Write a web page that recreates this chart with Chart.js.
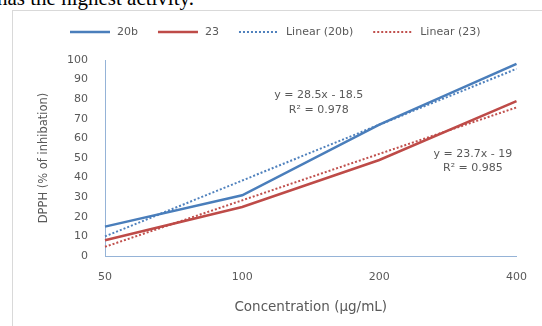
<!DOCTYPE html>
<html>
<head>
<meta charset="utf-8">
<script src="https://cdn.jsdelivr.net/npm/chart.js@4/dist/chart.umd.min.js"></script>
<style>
  html, body { margin: 0; padding: 0; background: #fff; overflow: hidden; }
  #wrap { position: relative; width: 542px; height: 326px; overflow: hidden; }
  #frame { position: absolute; left: 12px; top: 10px; width: 600px; height: 400px; border: 1px solid #d9d9d9; box-sizing: border-box; }
  #lead { position: absolute; left: -3px; top: -12px; font-family: "Liberation Serif", serif; font-size: 21px; line-height: 21px; color: #000; white-space: nowrap; }
  #c { position: absolute; left: 0; top: 0; }
</style>
</head>
<body>
<div id="wrap">
  <div id="lead">has the highest activity.</div>
  <div id="frame"></div>
  <canvas id="c" width="542" height="326"></canvas>
</div>
<script>
const categories = ['50', '100', '200', '400'];
const series20b = [15, 31, 67, 98];
const series23 = [8, 25, 49, 79];
const trend20b = [10, 38.5, 67, 95.5];
const trend23 = [4.7, 28.4, 52.1, 75.8];
const yTicks = [0, 10, 20, 30, 40, 50, 60, 70, 80, 90, 100];
const eq20b = ['y = 28.5x - 18.5', 'R² = 0.978'];
const eq23 = ['y = 23.7x - 19', 'R² = 0.985'];

const FONT = '"DejaVu Sans", sans-serif';
const TXT = '#595959';
const BLUE = '#4A7EBB';
const RED = '#BE4B48';
const BLUE_T = '#4F81BD';
const RED_T = '#C0504D';
const AXIS = '#95B3D7';

const legendPlugin = {
  id: 'customLegend',
  afterDraw(chart) {
    const ctx = chart.ctx;
    ctx.save();
    ctx.font = '11px ' + FONT;
    ctx.textBaseline = 'middle';
    let x = 70;
    const y = 32;
    chart.data.datasets.forEach(ds => {
      ctx.beginPath();
      ctx.strokeStyle = ds.borderColor;
      ctx.lineWidth = ds.borderDash ? 2 : 2.5;
      ctx.setLineDash(ds.borderDash || []);
      ctx.moveTo(x, y);
      ctx.lineTo(x + 40, y);
      ctx.stroke();
      ctx.setLineDash([]);
      ctx.fillStyle = TXT;
      ctx.textAlign = 'left';
      ctx.fillText(ds.label, x + 47, y);
      x += 47 + ctx.measureText(ds.label).width + 20;
    });
    ctx.restore();
  }
};

const eqPlugin = {
  id: 'equations',
  afterDraw(chart) {
    const ctx = chart.ctx;
    const xs = chart.scales.x, ys = chart.scales.y;
    ctx.save();
    ctx.font = '11px ' + FONT;
    ctx.fillStyle = TXT;
    ctx.textAlign = 'center';
    ctx.textBaseline = 'middle';
    const x1 = (xs.getPixelForValue(1) + xs.getPixelForValue(2)) / 2 + 8;
    const y1 = ys.getPixelForValue(82);
    ctx.fillText(eq20b[0], x1, y1);
    ctx.fillText(eq20b[1], x1, y1 + 15);
    const x2 = (xs.getPixelForValue(2) + xs.getPixelForValue(3)) / 2 + 25;
    const y2 = ys.getPixelForValue(52);
    ctx.fillText(eq23[0], x2, y2);
    ctx.fillText(eq23[1], x2, y2 + 14);
    ctx.restore();
  }
};

new Chart(document.getElementById('c'), {
  type: 'line',
  data: {
    labels: categories,
    datasets: [
      { label: '20b', data: series20b, borderColor: BLUE, borderWidth: 2.5, pointRadius: 0, tension: 0, fill: false },
      { label: '23', data: series23, borderColor: RED, borderWidth: 2.5, pointRadius: 0, tension: 0, fill: false },
      { label: 'Linear (20b)', data: trend20b, borderColor: BLUE_T, borderWidth: 2, borderDash: [2, 2], pointRadius: 0, tension: 0, fill: false },
      { label: 'Linear (23)', data: trend23, borderColor: RED_T, borderWidth: 2, borderDash: [2, 2], pointRadius: 0, tension: 0, fill: false }
    ]
  },
  options: {
    responsive: false,
    animation: false,
    devicePixelRatio: 1,
    layout: { padding: { left: 0, right: 14, top: 60, bottom: 0 } },
    plugins: { legend: { display: false }, tooltip: { enabled: false } },
    scales: {
      x: {
        type: 'category',
        offset: false,
        grid: { display: false, drawTicks: false },
        border: { display: true, color: AXIS, width: 1 },
        ticks: { color: TXT, font: { family: FONT, size: 11 }, padding: 15, maxRotation: 0, autoSkip: false },
        title: { display: true, text: 'Concentration (µg/mL)', color: TXT, font: { family: FONT, size: 13.5 }, padding: 10 },
        afterFit(s) { s.height = 70; }
      },
      y: {
        min: 0, max: 100,
        grid: { display: false, drawTicks: false },
        border: { display: true, color: AXIS, width: 1 },
        afterBuildTicks(s) { s.ticks = yTicks.map(v => ({ value: v })); },
        ticks: { color: TXT, font: { family: FONT, size: 11 }, padding: 17 },
        title: { display: true, text: 'DPPH (% of inhibation)', color: TXT, font: { family: FONT, size: 11.5 }, padding: 37 },
        afterFit(s) { s.width = 105; }
      }
    }
  },
  plugins: [legendPlugin, eqPlugin]
});
</script>
</body>
</html>
